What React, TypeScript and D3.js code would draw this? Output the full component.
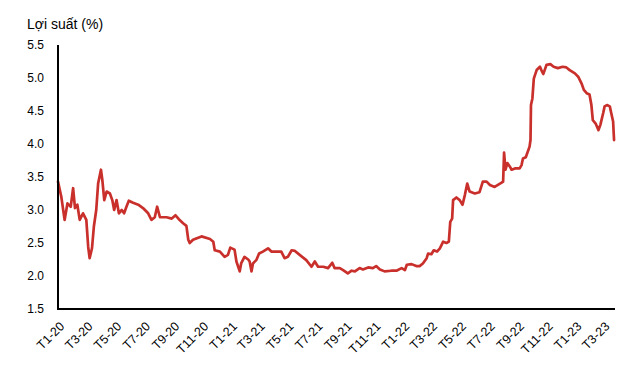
import React from "react";
import * as d3 from "d3";

const dates: string[] = [
  "2020-01-01","2020-01-08","2020-01-15","2020-01-21","2020-01-28","2020-02-02","2020-02-06","2020-02-11","2020-02-16","2020-02-23",
  "2020-03-01","2020-03-05","2020-03-08","2020-03-13","2020-03-17","2020-03-22","2020-03-26","2020-04-01","2020-04-04","2020-04-08",
  "2020-04-13","2020-04-20","2020-04-25","2020-04-29","2020-05-04","2020-05-09","2020-05-15","2020-05-20","2020-05-25","2020-05-30",
  "2020-06-08","2020-06-19","2020-06-29","2020-07-10","2020-07-17","2020-07-24","2020-07-29","2020-08-04","2020-08-18","2020-08-29",
  "2020-09-06","2020-09-13","2020-09-22","2020-09-29","2020-10-03","2020-10-06","2020-10-13","2020-10-31","2020-11-18","2020-11-25",
  "2020-11-28","2020-12-09","2020-12-19","2020-12-26","2020-12-31","2021-01-09","2021-01-13","2021-01-20","2021-01-23","2021-01-30",
  "2021-02-07","2021-02-10","2021-02-14","2021-02-17","2021-02-24","2021-03-02","2021-03-10","2021-03-21","2021-03-28","2021-04-08",
  "2021-04-18","2021-04-25","2021-05-02","2021-05-10","2021-05-17","2021-05-27","2021-06-10","2021-06-21","2021-06-28","2021-07-05",
  "2021-07-16","2021-07-26","2021-08-04","2021-08-09","2021-08-20","2021-08-27","2021-09-06","2021-09-14","2021-09-21","2021-10-01",
  "2021-10-08","2021-10-19","2021-10-29","2021-11-05","2021-11-13","2021-11-23","2021-12-07","2021-12-18","2021-12-29","2022-01-05",
  "2022-01-09","2022-01-19","2022-01-29","2022-02-05","2022-02-12","2022-02-20","2022-02-23","2022-03-02","2022-03-07","2022-03-14",
  "2022-03-20","2022-03-27","2022-04-03","2022-04-08","2022-04-11","2022-04-15","2022-04-17","2022-04-24","2022-05-01","2022-05-07",
  "2022-05-12","2022-05-17","2022-05-22","2022-06-02","2022-06-12","2022-06-19","2022-06-27","2022-07-04","2022-07-14","2022-07-21",
  "2022-07-28","2022-08-01","2022-08-03","2022-08-06","2022-08-10","2022-08-15","2022-08-19","2022-08-26","2022-09-05","2022-09-09",
  "2022-09-12","2022-09-18","2022-09-21","2022-09-26","2022-09-28","2022-09-29","2022-10-02","2022-10-05","2022-10-11","2022-10-18",
  "2022-10-21","2022-10-25","2022-10-28","2022-11-01","2022-11-09","2022-11-16","2022-11-25","2022-12-05","2022-12-13","2022-12-20",
  "2022-12-31","2023-01-07","2023-01-14","2023-01-19","2023-01-25","2023-01-31","2023-02-04","2023-02-07","2023-02-13","2023-02-19",
  "2023-02-23","2023-03-01","2023-03-04","2023-03-09","2023-03-15","2023-03-18","2023-03-22","2023-03-24"
];

const yields: number[] = [
  3.43,3.20,2.85,3.10,3.05,3.33,3.03,3.08,2.85,2.95,
  2.85,2.44,2.27,2.42,2.75,3.00,3.40,3.61,3.45,3.15,
  3.28,3.25,3.15,3.00,3.15,2.95,3.00,2.95,3.05,3.14,
  3.11,3.08,3.03,2.95,2.85,2.89,3.05,2.89,2.89,2.87,
  2.92,2.86,2.80,2.76,2.55,2.50,2.55,2.60,2.56,2.52,
  2.39,2.37,2.29,2.32,2.43,2.40,2.22,2.07,2.19,2.29,
  2.25,2.22,2.07,2.19,2.24,2.34,2.37,2.42,2.37,2.37,
  2.37,2.27,2.29,2.39,2.38,2.32,2.24,2.14,2.22,2.14,
  2.14,2.12,2.20,2.12,2.12,2.09,2.04,2.08,2.07,2.12,
  2.10,2.13,2.12,2.15,2.10,2.07,2.08,2.08,2.12,2.09,
  2.17,2.18,2.15,2.15,2.19,2.27,2.34,2.33,2.39,2.37,
  2.42,2.52,2.50,2.52,2.82,2.87,3.15,3.19,3.15,3.08,
  3.23,3.40,3.28,3.25,3.27,3.43,3.43,3.38,3.35,3.38,
  3.41,3.43,3.87,3.61,3.71,3.66,3.61,3.63,3.63,3.68,
  3.78,3.80,3.86,3.96,4.06,4.59,4.69,4.99,5.12,5.17,
  5.12,5.06,5.12,5.20,5.21,5.17,5.15,5.17,5.16,5.12,
  5.07,5.02,4.92,4.82,4.77,4.75,4.59,4.36,4.31,4.21,
  4.29,4.47,4.57,4.59,4.57,4.47,4.34,4.06
];

const yTicks: number[] = [1.5, 2.0, 2.5, 3.0, 3.5, 4.0, 4.5, 5.0, 5.5];
const tickMonths: string[] = [
  "2020-01-01","2020-03-01","2020-05-01","2020-07-01","2020-09-01","2020-11-01",
  "2021-01-01","2021-03-01","2021-05-01","2021-07-01","2021-09-01","2021-11-01",
  "2022-01-01","2022-03-01","2022-05-01","2022-07-01","2022-09-01","2022-11-01",
  "2023-01-01","2023-03-01"
];
const title = "Lợi suất (%)";

const W = 641;
const H = 381;
const left = 58;
const right = 615;
const top = 45;
const bottom = 309;

export default function App() {
  const parse = d3.utcParse("%Y-%m-%d");
  const x = d3
    .scaleUtc()
    .domain([parse("2020-01-01")!, parse("2023-03-26")!])
    .range([left, right]);
  const y = d3.scaleLinear().domain([1.5, 5.5]).range([bottom, top]);
  const data = dates.map((d, i) => ({ date: parse(d)!, v: yields[i] }));
  const line = d3
    .line<{ date: Date; v: number }>()
    .x((d) => x(d.date))
    .y((d) => y(d.v));
  const fmt = (d: Date) => `T${d.getUTCMonth() + 1}-${String(d.getUTCFullYear()).slice(2)}`;
  const font = "'Liberation Sans', Arial, sans-serif";

  return (
    <svg
      width={W}
      height={H}
      style={{ position: "absolute", left: 0, top: 0, background: "#fff" }}
    >
      <rect x={0} y={0} width={W} height={H} fill="#fff" />
      <text x={27} y={29} fontFamily={font} fontSize={14} fill="#000">
        {title}
      </text>
      {yTicks.map((t) => (
        <text
          key={t}
          x={44}
          y={y(t)}
          dy="0.35em"
          textAnchor="end"
          fontFamily={font}
          fontSize={12}
          fill="#000"
        >
          {t.toFixed(1)}
        </text>
      ))}
      {tickMonths.map((m) => {
        const d = parse(m)!;
        const px = x(d);
        return (
          <text
            key={m}
            transform={`translate(${px + 4},${324}) rotate(-45)`}
            textAnchor="end"
            dy="0.35em"
            fontFamily={font}
            fontSize={12.5}
            fill="#000"
          >
            {fmt(d)}
          </text>
        );
      })}
      <path
        d={line(data) || ""}
        fill="none"
        stroke="#c9302c"
        strokeWidth={2.7}
        strokeLinejoin="round"
        strokeLinecap="round"
      />
      <line x1={left} x2={left} y1={top} y2={bottom} stroke="#000" strokeWidth={2} />
      <line x1={left - 1} x2={right} y1={bottom} y2={bottom} stroke="#000" strokeWidth={2} />
    </svg>
  );
}
